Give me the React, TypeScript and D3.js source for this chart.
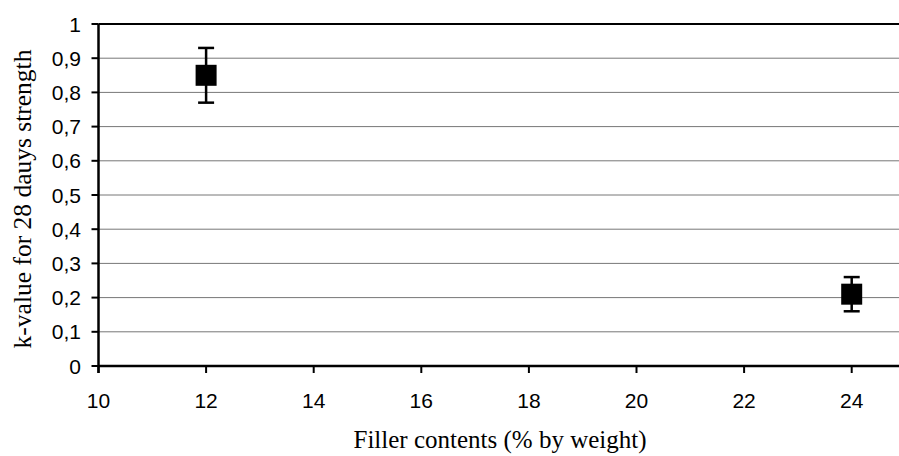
import React from "react";
import * as d3 from "d3";

const fillerContents = [12, 24];
const kValues = [0.85, 0.21];
const kErrors = [0.08, 0.05];
const xTicks = [10, 12, 14, 16, 18, 20, 22, 24];
const yTicks = [0, 0.1, 0.2, 0.3, 0.4, 0.5, 0.6, 0.7, 0.8, 0.9, 1];

const W = 899;
const H = 456;

export default function App() {
  const x = d3.scaleLinear().domain([10, 25]).range([98.5, 905.5]);
  const y = d3.scaleLinear().domain([0, 1]).range([366, 24]);
  const fmt = (v: number) => (v === 0 || v === 1 ? String(v) : v.toFixed(1).replace(".", ","));
  const sans = "'Liberation Sans', Arial, sans-serif";
  const serif = "'Liberation Serif', 'Times New Roman', serif";
  return (
    <svg width={W} height={H} style={{ position: "absolute", left: 0, top: 0, background: "#fff" }}>
      {yTicks.map((t) => (
        <line key={"g" + t} x1={x(10)} x2={W} y1={y(t)} y2={y(t)}
          stroke={t === 1 ? "#000" : "#777"} strokeWidth={t === 1 ? 2 : 1} />
      ))}
      <line x1={x(10)} x2={W} y1={y(0)} y2={y(0)} stroke="#000" strokeWidth={2.5} />
      <line x1={x(10)} x2={x(10)} y1={y(1)} y2={y(0) + 7} stroke="#000" strokeWidth={2.5} />
      {yTicks.map((t) => (
        <g key={"yt" + t}>
          <line x1={x(10) - 7} x2={x(10)} y1={y(t)} y2={y(t)} stroke="#000" strokeWidth={2} />
          <text x={81} y={y(t)} dy="0.36em" textAnchor="end" fontFamily={sans} fontSize={21}>{fmt(t)}</text>
        </g>
      ))}
      {xTicks.map((t) => (
        <g key={"xt" + t}>
          <line x1={x(t)} x2={x(t)} y1={y(0)} y2={y(0) + 7} stroke="#000" strokeWidth={2} />
          <text x={x(t)} y={408} textAnchor="middle" fontFamily={sans} fontSize={21}>{t}</text>
        </g>
      ))}
      {fillerContents.map((fc, i) => {
        const cx = x(fc);
        const v = kValues[i];
        const e = kErrors[i];
        return (
          <g key={"p" + i}>
            <line x1={cx} x2={cx} y1={y(v + e)} y2={y(v - e)} stroke="#000" strokeWidth={2.5} />
            <line x1={cx - 8} x2={cx + 8} y1={y(v + e)} y2={y(v + e)} stroke="#000" strokeWidth={2.5} />
            <line x1={cx - 8} x2={cx + 8} y1={y(v - e)} y2={y(v - e)} stroke="#000" strokeWidth={2.5} />
            <rect x={cx - 10.5} y={y(v) - 10.5} width={21} height={21} fill="#000" />
          </g>
        );
      })}
      <text x={500} y={448} textAnchor="middle" fontFamily={serif} fontSize={25}>Filler contents (% by weight)</text>
      <text transform={`translate(31, 199) rotate(-90)`} textAnchor="middle" fontFamily={serif} fontSize={25.5}>k-value for 28 dauys strength</text>
    </svg>
  );
}
